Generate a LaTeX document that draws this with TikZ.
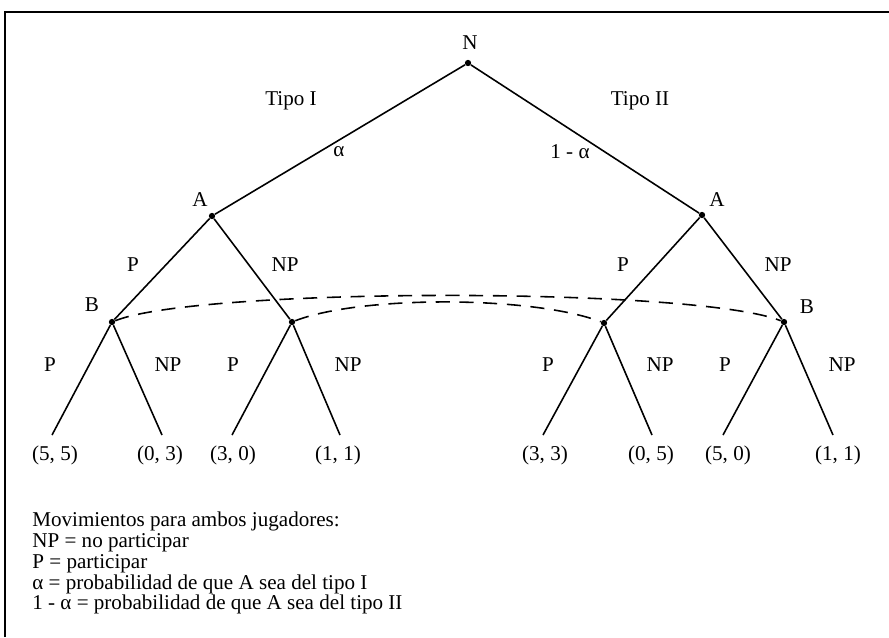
\documentclass[tikz,border=0pt]{standalone}
\usepackage{fontspec}
\setmainfont{Liberation Serif}
\usetikzlibrary{positioning}

\begin{document}
\begin{tikzpicture}[x=0.02cm,y=-0.02cm,
  dot/.style={circle,fill,inner sep=0pt,minimum size=3.6pt},
  lbl/.style={font=\fontsize{12}{14}\selectfont,inner sep=0pt},
  edge/.style={line width=0.9pt},
  infoset/.style={line width=0.9pt,dash pattern=on 8pt off 5.5pt}]
  \useasboundingbox (0,0) rectangle (889,637);
  \draw[line width=1pt] (5,637) -- (5,12) -- (889,12);
  % decision nodes
  \node[dot] (N) at (468,63) {};
  \node[dot] (A1) at (212,216) {};
  \node[dot] (A2) at (702,215) {};
  \node[dot] (B1) at (112,322) {};
  \node[dot] (B2) at (292,322) {};
  \node[dot] (B3) at (604,323) {};
  \node[dot] (B4) at (784,322) {};
  % end points of the last moves
  \foreach \n/\x in {1/52,2/162,3/232,4/340,5/543,6/652,7/723,8/833}
    \coordinate (t\n) at (\x,435);
  \draw[edge] (N) -- (A1) (N) -- (A2);
  \draw[edge] (A1) -- (B1) (A1) -- (B2) (A2) -- (B3) (A2) -- (B4);
  \draw[edge] (B1) -- (t1) (B1) -- (t2) (B2) -- (t3) (B2) -- (t4);
  \draw[edge] (B3) -- (t5) (B3) -- (t6) (B4) -- (t7) (B4) -- (t8);
  % information sets of B
  \draw[infoset] (B1) .. controls +(88,-35) and +(-88,-35) .. (B4);
  \draw[infoset] (B2) .. controls +(70,-27) and +(-70,-27) .. (B3);
  % players
  \node[lbl] (nN) at (470,43) {N};
  \node[lbl] (nA1) at (200,200) {A};
  \node[lbl] (nA2) at (717,200) {A};
  \node[lbl] (nB1) at (92,305) {B};
  \node[lbl] (nB4) at (807,307) {B};
  % moves
  \node[lbl] (tipoI) at (291,101) {Tipo I};
  \node[lbl] (tipoII) at (640,101) {Tipo II};
  \node[lbl] (pa) at (339,152) {α};
  \node[lbl] (pb) at (570,152) {1 - α};
  \foreach \x/\m [count=\i] in {133/P,285/NP,623/P,778/NP}
    \node[lbl] (mA\i) at (\x,265) {\m};
  \foreach \x/\m [count=\i] in {50/P,168/NP,233/P,348/NP,548/P,660/NP,725/P,842/NP}
    \node[lbl] (mB\i) at (\x,365) {\m};
  % payoffs
  \foreach \x/\u [count=\i] in {55/{(5, 5)},160/{(0, 3)},233/{(3, 0)},338/{(1, 1)},
      545/{(3, 3)},651/{(0, 5)},728/{(5, 0)},838/{(1, 1)}}
    \node[lbl] (u\i) at (\x,455) {\u};
  % legend
  \node[lbl,align=left,anchor=north west,font=\fontsize{12}{11.8}\selectfont] (legend)
    at (32,512) {Movimientos para ambos jugadores:\\
      NP = no participar\\
      P = participar\\
      α = probabilidad de que A sea del tipo I\\
      1 - α = probabilidad de que A sea del tipo II};
\end{tikzpicture}
\end{document}
